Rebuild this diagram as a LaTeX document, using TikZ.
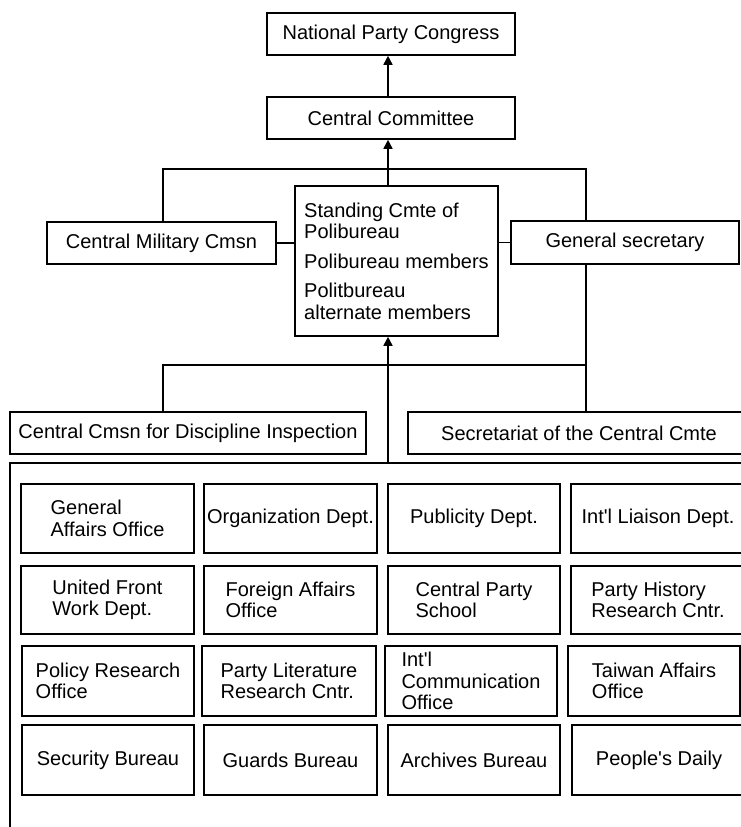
\documentclass[tikz,border=0pt]{standalone}
\usepackage{fontspec}
\setmainfont{Liberation Sans}
\usetikzlibrary{arrows.meta}
\newcommand{\apos}{\textquotesingle}
\begin{document}
\begin{tikzpicture}[x=1pt,y=-1pt,
  box/.style={draw=black, line width=1.6pt, inner sep=0pt, align=left,
    font=\fontsize{20}{21.5}\selectfont, fill=white},
  wire/.style={draw=black, line width=1.6pt},
  arr/.style={wire, -{Triangle[width=9pt,length=9pt]}}]
\clip (0,0) rectangle (741,827);
\fill[white] (0,0) rectangle (741,827);

% top of the hierarchy
\node[box, minimum width=248, minimum height=42] (npc) at (391,34) {National Party Congress};
\node[box, minimum width=248, minimum height=42] (cc) at (391,118) {Central Committee};
\node[box, minimum width=203, minimum height=150] (sc) at (396.5,261)
  {Standing Cmte of\\Polibureau\\[8pt]Polibureau members\\[8pt]Politbureau\\alternate members};
\node[box, minimum width=229, minimum height=42] (cmc) at (161.5,243) {Central Military Cmsn};
\node[box, minimum width=228, minimum height=43] (gs) at (625,242.5) {General secretary};
\node[box, minimum width=356, minimum height=42] (ccdi) at (188,433) {Central Cmsn for Discipline Inspection};
\node[box, minimum width=342, minimum height=42] (sec) at (579,433) {Secretariat of the Central Cmte};

% junctions of the connector lines
\coordinate (jtl) at (163,169);
\coordinate (jtr) at (586,169);
\coordinate (jbl) at (163,365);
\coordinate (jbr) at (586,365);
\coordinate (spine) at (388,463);

% frame around the departments
\draw[wire] (10,840) |- (760,463);

% departments
\node[box, minimum width=173, minimum height=69] (d11) at (107.5,518.5) {General\\Affairs Office};
\node[box, minimum width=173, minimum height=69] (d12) at (290.5,518.5) {Organization Dept.};
\node[box, minimum width=172, minimum height=69] (d13) at (474,518.5) {Publicity Dept.};
\node[box, minimum width=174, minimum height=69] (d14) at (658,518.5) {Int\apos l Liaison Dept.};

\node[box, minimum width=173, minimum height=68] (d21) at (107.5,600) {United Front\\Work Dept.};
\node[box, minimum width=173, minimum height=68] (d22) at (290.5,600) {Foreign Affairs\\Office};
\node[box, minimum width=172, minimum height=68] (d23) at (474,600) {Central Party\\School};
\node[box, minimum width=174, minimum height=68] (d24) at (658,600) {Party History\\Research Cntr.};

\node[box, minimum width=172, minimum height=70] (d31) at (108,681) {Policy Research\\Office};
\node[box, minimum width=174, minimum height=70] (d32) at (289,681) {Party Literature\\Research Cntr.};
\node[box, minimum width=172, minimum height=70] (d33) at (471,681) {Int\apos l\\Communication\\Office};
\node[box, minimum width=172, minimum height=70] (d34) at (654,681) {Taiwan Affairs\\Office};

\node[box, minimum width=172, minimum height=70] (d41) at (108,760) {Security Bureau};
\node[box, minimum width=173, minimum height=70] (d42) at (290.5,760) {Guards Bureau};
\node[box, minimum width=172, minimum height=70] (d43) at (474,760) {Archives Bureau};
\node[box, minimum width=174, minimum height=70] (d44) at (659,760) {People\apos s Daily};

% connectors
\draw[arr] (cc.north -| spine) -- (npc.south -| spine);
\draw[arr] (sc.north -| spine) -- (cc.south -| spine);
\draw[arr] (spine) -- (sc.south -| spine);
\draw[wire] (cmc.north -| jtl) -- (jtl) -- (jtr) -- (gs.north -| jtr);
\draw[wire] (cmc.east) -- (cmc.east -| sc.west);
\draw[wire] (sc.east |- gs.west) -- (gs.west);
\draw[wire] (gs.south -| jtr) -- (sec.north -| jtr);
\draw[wire] (ccdi.north -| jbl) -- (jbl) -- (jbr);
\end{tikzpicture}
\end{document}
